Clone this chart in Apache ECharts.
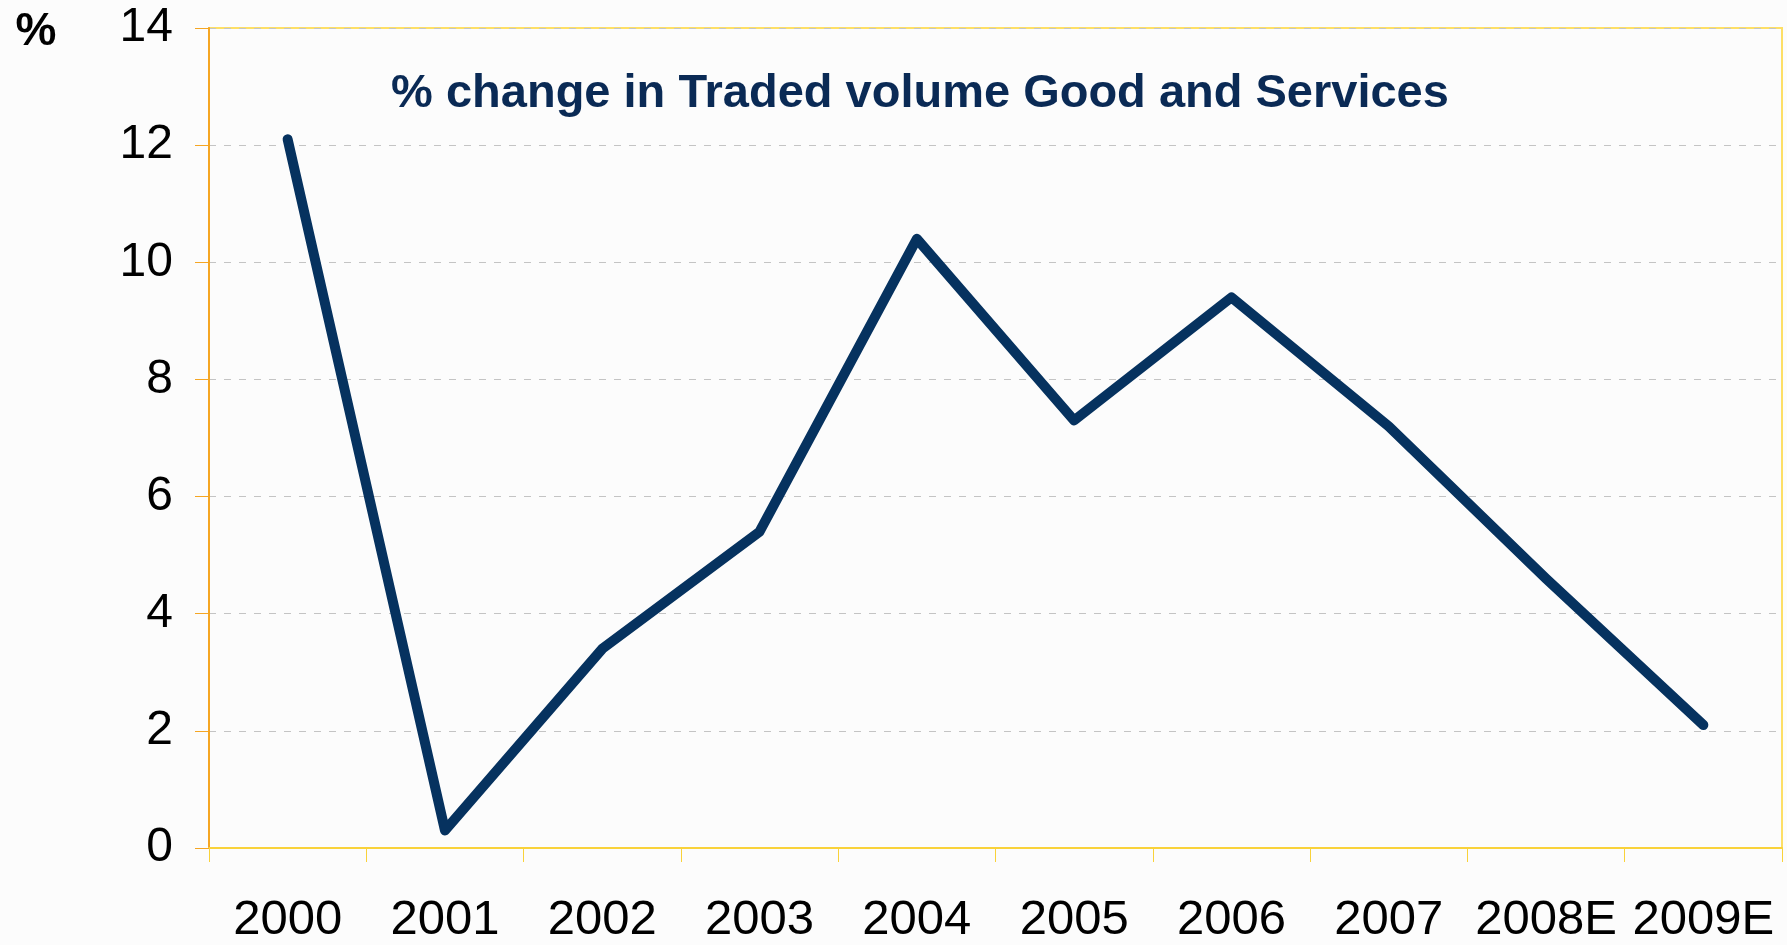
<!DOCTYPE html>
<html>
<head>
<meta charset="utf-8">
<title>% change in Traded volume Good and Services</title>
<script src="https://cdn.jsdelivr.net/npm/echarts@6/dist/echarts.min.js"></script>
<style>
  html, body { margin: 0; padding: 0; background: #fcfcfc; }
  #chart { width: 1787px; height: 945px; }
</style>
</head>
<body>
<div id="chart"></div>
<script>
// Years on the horizontal axis (E = estimate)
const years = ['2000', '2001', '2002', '2003', '2004', '2005', '2006', '2007', '2008E', '2009E'];
// Annual % change in traded volume of goods and services
const tradeGrowth = [12.1, 0.3, 3.4, 5.4, 10.4, 7.3, 9.4, 7.2, 4.6, 2.1];
// Value axis scale
const yMin = 0;
const yMax = 14;
const yStep = 2;

const chartTitle = '% change in Traded volume Good and Services';
const unitLabel = '%';

const chart = echarts.init(document.getElementById('chart'), null, { renderer: 'canvas' });

chart.setOption({
  backgroundColor: '#fcfcfc',
  animation: false,
  grid: {
    left: 209,
    right: 5,
    top: 28,
    bottom: 92,
    show: true,
    borderColor: '#fddf66',
    borderWidth: 2,
    backgroundColor: 'transparent'
  },
  xAxis: {
    type: 'category',
    data: years,
    boundaryGap: true,
    axisLine: { show: true, lineStyle: { color: '#f9d23a', width: 2 } },
    axisTick: { show: true, interval: 0, length: 14, lineStyle: { color: '#f9d23a', width: 1 } },
    axisLabel: {
      interval: 0,
      hideOverlap: false,
      color: '#000',
      fontFamily: 'Liberation Sans, Arial, sans-serif',
      fontSize: 49,
      margin: 48
    },
    splitLine: { show: false }
  },
  yAxis: {
    type: 'value',
    min: yMin,
    max: yMax,
    interval: yStep,
    axisLine: { show: true, lineStyle: { color: '#f5a623', width: 2 } },
    axisTick: { show: true, length: 14, lineStyle: { color: '#f5a623', width: 1 } },
    axisLabel: {
      color: '#000',
      fontFamily: 'Liberation Sans, Arial, sans-serif',
      fontSize: 48,
      margin: 36
    },
    splitLine: {
      show: true,
      lineStyle: { color: '#c4c4c4', width: 1, type: [7, 8] }
    }
  },
  series: [{
    name: chartTitle,
    type: 'line',
    data: tradeGrowth,
    symbol: 'none',
    lineStyle: { color: '#06325f', width: 10, cap: 'round', join: 'round' },
    z: 5
  }],
  graphic: [
    {
      type: 'text',
      x: 920,
      y: 94,
      style: {
        text: chartTitle,
        fill: '#0a2a55',
        font: 'bold 47px "Liberation Sans", Arial, sans-serif',
        textAlign: 'center',
        textVerticalAlign: 'middle'
      },
      z: 10
    },
    {
      type: 'text',
      x: 36,
      y: 32,
      style: {
        text: unitLabel,
        fill: '#000',
        font: 'bold 46px "Liberation Sans", Arial, sans-serif',
        textAlign: 'center',
        textVerticalAlign: 'middle'
      },
      z: 10
    }
  ]
});
</script>
</body>
</html>
